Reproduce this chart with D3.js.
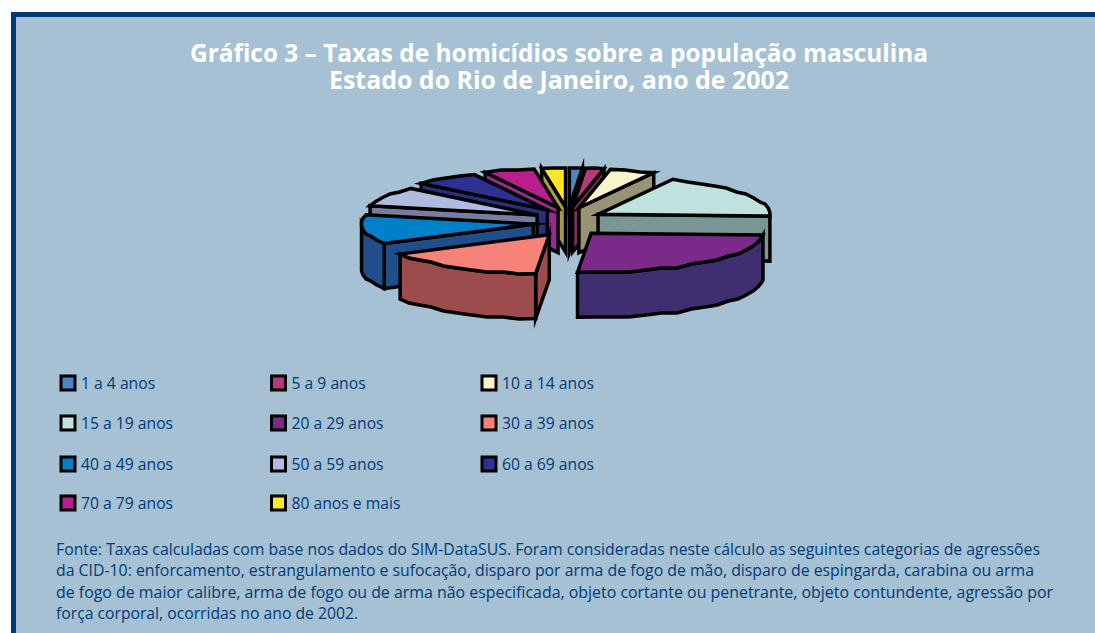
<!DOCTYPE html>
<html lang="pt">
<head>
<meta charset="utf-8">
<title>Gráfico 3</title>
<script src="https://cdn.jsdelivr.net/npm/d3@7"></script>
<style>
html,body{margin:0;padding:0;background:#fff;}
svg{display:block;}
text{font-family:"Open Sans","Noto Sans",sans-serif;}
</style>
</head>
<body>
<svg id="chart" width="1095" height="633"></svg>
<script>
// Age groups and their share of the homicide rate (percent of the whole pie)
const categories = ["1 a 4 anos","5 a 9 anos","10 a 14 anos","15 a 19 anos","20 a 29 anos","30 a 39 anos","40 a 49 anos","50 a 59 anos","60 a 69 anos","70 a 79 anos","80 anos e mais"];
const values = [1.2,1.7,4.2,18.4,25.3,15.3,12.0,8.0,6.1,4.7,2.2];
const topColors = ["#4a86c5","#b5397b","#fbf3cc","#c0e2df","#7b2a8a","#f7827a","#0080c8","#b0bcdf","#2e3192","#b91e8c","#fde725"];
const sideColors = ["#3a5f8e","#7a3358","#979374","#7a9695","#3f2e70","#9c4c4c","#1f4e8a","#787c9e","#27307f","#9a2a93","#a89a40"];
const titleLines = ["Gráfico 3 – Taxas de homicídios sobre a população masculina","Estado do Rio de Janeiro, ano de 2002"];
const noteLines = [
  "Fonte: Taxas calculadas com base nos dados do SIM-DataSUS. Foram consideradas neste cálculo as seguintes categorias de agressões",
  "da CID-10: enforcamento, estrangulamento e sufocação, disparo por arma de fogo de mão, disparo de espingarda, carabina ou arma",
  "de fogo de maior calibre, arma de fogo ou de arma não especificada, objeto cortante ou penetrante, objeto contundente, agressão por",
  "força corporal, ocorridas no ano de 2002."
];

const svg = d3.select("#chart");
const navy = "#003a78";

// Panel with its heavy top and left rules
svg.append("rect").attr("x",11).attr("y",12).attr("width",1084).attr("height",621).attr("fill",navy);
svg.append("rect").attr("x",16).attr("y",17).attr("width",1079).attr("height",616).attr("fill","#a5c1d3");

svg.append("g").selectAll("text").data(titleLines).join("text")
  .attr("x",559).attr("y",(d,i)=>62+i*27)
  .attr("text-anchor","middle").attr("fill","#fff")
  .attr("font-size",24.5).attr("font-weight",700)
  .attr("textLength",(d,i)=>i?460:738).attr("lengthAdjust","spacingAndGlyphs")
  .text(d=>d);

// Exploded pie in oblique projection
const cx=568, cy=222, rx=172, ry=39, depth=45, explodeX=35, explodeY=15;
const topScale = d3.scaleOrdinal(categories,topColors);
const sideScale = d3.scaleOrdinal(categories,sideColors);
const arcs = d3.pie().sort(null).value((d,i)=>values[i])(categories);

const project = (t,ox,oy)=>[ox+rx*Math.sin(t), oy-ry*Math.cos(t)];

// The rim is a coarse polyline snapped to a grid, which gives it a scalloped edge
function rim(a,ox,oy){
  const n=Math.max(2,Math.ceil((a.endAngle-a.startAngle)/(Math.PI/30)));
  return d3.range(n+1).map(i=>{
    const t=a.startAngle+(a.endAngle-a.startAngle)*i/n;
    const p=project(t,ox,oy);
    return (i===0||i===n)?p:[p[0],Math.round(p[1]/2)*2];
  });
}
const pathOf = d3.line();
const slices = arcs.map(a=>{
  const mid=(a.startAngle+a.endAngle)/2;
  const ox=cx+explodeX*Math.sin(mid), oy=cy-explodeY*Math.cos(mid);
  return {a,mid,ox,oy,name:a.data};
}).sort((p,q)=>p.oy-q.oy);

const pie = svg.append("g").attr("stroke","#000").attr("stroke-width",3.5).attr("stroke-linejoin","miter").attr("stroke-miterlimit",12);
const down = p=>[p[0],p[1]+depth];

slices.forEach(s=>{
  const g=pie.append("g");
  const pts=rim(s.a,s.ox,s.oy);
  const apex=[s.ox,s.oy];
  const side=sideScale(s.name);
  // cut face turned towards the viewer
  const edge = Math.sin(s.a.endAngle)>0 && s.a.endAngle<=Math.PI ? pts[pts.length-1] : (s.a.startAngle>=Math.PI ? pts[0] : null);
  if(edge) g.append("path").attr("fill",side).attr("d",pathOf([apex,edge,down(edge),down(apex)])+"Z");
  // outer wall between 90 and 270 degrees
  const front=pts.filter((p,i)=>{
    const t=s.a.startAngle+(s.a.endAngle-s.a.startAngle)*i/(pts.length-1);
    return t>=Math.PI/2 && t<=Math.PI*1.5;
  });
  if(front.length>1) g.append("path").attr("fill",side).attr("d",pathOf(front.concat(front.slice().reverse().map(down)))+"Z");
  g.append("path").attr("fill",topScale(s.name)).attr("d",pathOf([apex,...pts])+"Z");
});

// Legend: three columns, filled row by row
const colX = d3.scalePoint().domain([0,1,2]).range([60,481]);
const rowY = d3.scaleOrdinal([0,1,2,3],[383,423,464,503]);
const legend = svg.append("g").selectAll("g").data(categories).join("g")
  .attr("transform",(d,i)=>`translate(${colX(i%3)},${rowY(Math.floor(i/3))})`);
legend.append("rect").attr("x",1).attr("y",-7).attr("width",14).attr("height",14)
  .attr("fill",d=>topScale(d)).attr("stroke","#000").attr("stroke-width",3);
legend.append("text").attr("x",21).attr("y",6).attr("fill",navy).attr("font-size",15.7).text(d=>d);

svg.append("g").selectAll("text").data(noteLines).join("text")
  .attr("x",56).attr("y",(d,i)=>555+i*21.4).attr("fill",navy).attr("font-size",15.5)
  .attr("textLength",(d,i)=>[984,978,997,302][i]).attr("lengthAdjust","spacingAndGlyphs")
  .text(d=>d);
</script>
</body>
</html>
